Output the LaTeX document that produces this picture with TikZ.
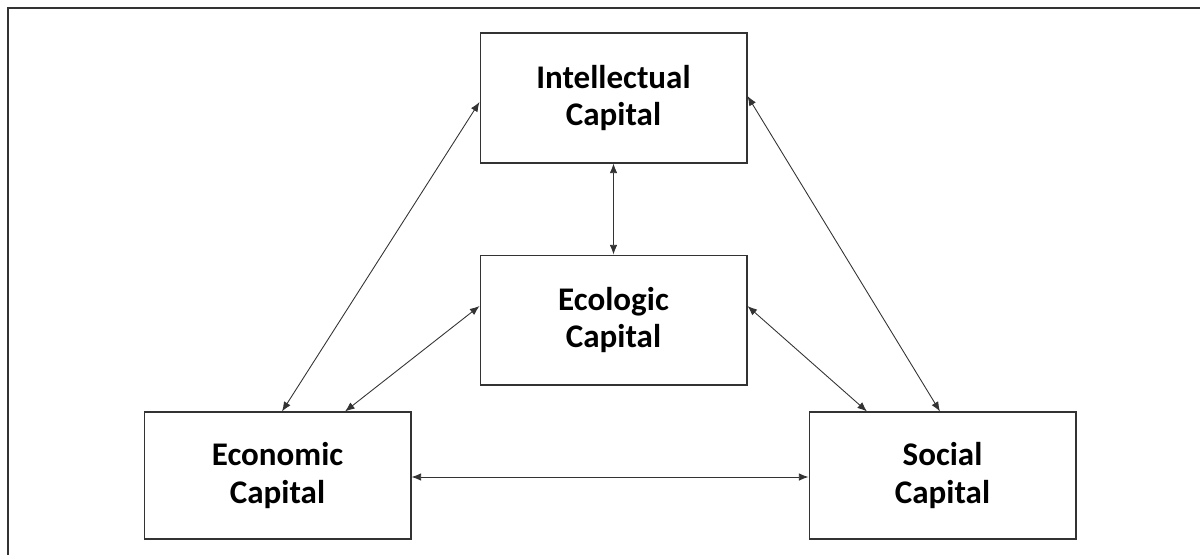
\documentclass[tikz,border=0pt]{standalone}
\usepackage{fontspec}
\setmainfont{Carlito}
\usepackage{tikz}
\usetikzlibrary{positioning,arrows.meta}
\definecolor{framegray}{HTML}{333333}
\tikzset{every node/.style={align=center}, >= {Latex[length=5.5pt,width=4.3pt]},
  font=\fontsize{18.8}{21.5}\selectfont\bfseries}
\tikzset{capbox/.style={draw=framegray, line width=0.6pt, minimum width=5.34cm, minimum height=2.6cm, inner sep=0pt}}

\begin{document}
\begin{tikzpicture}[x=0.02cm, y=-0.02cm]
            \useasboundingbox (0,0) rectangle (1200,555);
            \draw[framegray, line width=1.1pt] (1200,8) -- (8,8) -- (8,555);
            \node [capbox] (ic) at (613.5,98) {Intellectual\\Capital};
            \node [capbox, below=1.82cm of ic] (ec) {Ecologic\\Capital};
            \node [capbox, minimum height=2.54cm] (eco) at (277.5,475.5) {Economic\\Capital};
            \node [capbox, minimum height=2.54cm] (soc) at (942.5,475.5) {Social\\Capital};
            \path[<->, framegray, line width=0.5pt] (ic) edge (ec)
                ([yshift=-0.08cm]ic.west) edge ([xshift=0.09cm]eco.north)
                ([yshift=0.04cm]ic.east) edge ([xshift=-0.05cm]soc.north)
                ([yshift=0.28cm]ec.west) edge ([xshift=1.35cm]eco.north)
                ([yshift=0.28cm]ec.east) edge ([xshift=-1.51cm]soc.north)
                ([yshift=-0.03cm]eco.east) edge ([yshift=-0.03cm]soc.west);
        \end{tikzpicture}
\end{document}
